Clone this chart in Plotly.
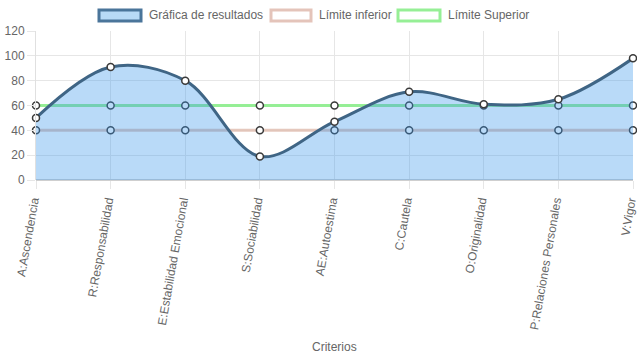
import plotly.graph_objects as go

categorias = ["A:Ascendencia", "R:Responsabilidad", "E:Estabilidad Emocional",
              "S:Sociabilidad", "AE:Autoestima", "C:Cautela", "O:Originalidad",
              "P:Relaciones Personales", "V:Vigor"]
resultados = [50, 91, 80, 19, 47, 71, 61, 65, 98]
limite_inferior = [40, 40, 40, 40, 40, 40, 40, 40, 40]
limite_superior = [60, 60, 60, 60, 60, 60, 60, 60, 60]
y_ticks = [0, 20, 40, 60, 80, 100, 120]

FONT = "Liberation Sans, Arial, Helvetica, sans-serif"
TXT = "#666666"

marker = dict(size=7, color="white", line=dict(color="#3a3a3a", width=1.5))

fig = go.Figure()
fig.add_trace(go.Scatter(
    x=categorias, y=limite_superior, mode="lines+markers",
    line=dict(color="rgba(144,238,144,0.95)", width=3),
    marker=marker, cliponaxis=False, showlegend=False, hoverinfo="skip"))
fig.add_trace(go.Scatter(
    x=categorias, y=limite_inferior, mode="lines+markers",
    line=dict(color="rgba(225,190,178,0.85)", width=3),
    marker=marker, cliponaxis=False, showlegend=False, hoverinfo="skip"))
fig.add_trace(go.Scatter(
    x=categorias, y=resultados, mode="lines+markers",
    line=dict(color="#3f6585", width=3, shape="spline", smoothing=1.0),
    fill="tozeroy", fillcolor="rgba(54,150,235,0.35)",
    marker=marker, cliponaxis=False, showlegend=False, hoverinfo="skip"))

# Chart.js-style legend boxes
legend_items = [
    ("Gráfica de resultados", "rgba(184,218,246,1)", "#4a759a", 99, 141, 147),
    ("Límite inferior", "white", "rgba(225,190,178,0.9)", 271, 311, 317),
    ("Límite Superior", "white", "rgba(144,238,144,0.95)", 398, 440, 446),
]
shapes = []
annotations = []
W, H = 637, 359
for label, fillc, linec, x0, x1, xt in legend_items:
    shapes.append(dict(type="rect", xref="paper", yref="paper",
                       x0=(x0 - 36) / 597, x1=(x1 - 36) / 597,
                       y0=(180 - 21) / 149, y1=(180 - 10) / 149,
                       fillcolor=fillc, line=dict(color=linec, width=3)))
    annotations.append(dict(text=label, xref="paper", yref="paper",
                            x=(xt - 36) / 597, y=(180 - 15.5) / 149,
                            xanchor="left", yanchor="middle", showarrow=False,
                            font=dict(family=FONT, size=12, color=TXT)))
annotations.append(dict(text="Criterios", xref="paper", yref="paper",
                        x=0.5, y=(180 - 347) / 149, xanchor="center",
                        yanchor="middle", showarrow=False,
                        font=dict(family=FONT, size=12, color=TXT)))

fig.update_layout(
    width=W, height=H,
    margin=dict(l=36, r=4, t=31, b=179),
    paper_bgcolor="white", plot_bgcolor="white",
    font=dict(family=FONT, size=12, color=TXT),
    shapes=shapes, annotations=annotations,
    xaxis=dict(type="category", range=[0, 8], showgrid=True, automargin=False,
               gridcolor="#e6e6e6", gridwidth=1, tickangle=-80,
               ticks="outside", ticklen=8, tickcolor="#e6e6e6",
               ticklabelshift=-3,
               showline=False, zeroline=False,
               tickfont=dict(family=FONT, size=12, color=TXT)),
    yaxis=dict(range=[0, 120], tickvals=y_ticks, showgrid=True, automargin=False,
               gridcolor="#e6e6e6", gridwidth=1, ticks="outside",
               ticklen=8, tickcolor="#e6e6e6", zeroline=True,
               zerolinecolor="#cfcfcf", zerolinewidth=2,
               showline=True, linecolor="#e0e0e0", linewidth=1,
               tickfont=dict(family=FONT, size=12, color=TXT)),
)

fig.write_html("out.html", config={"displayModeBar": False},
               post_script="document.body.style.margin='0';document.body.style.overflow='hidden';")
